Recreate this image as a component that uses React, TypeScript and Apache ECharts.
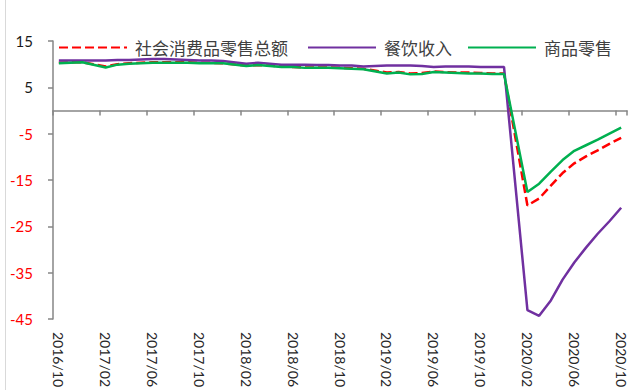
import React, { useEffect, useRef } from "react";
import * as echarts from "echarts";

const categories = [
  "2016/10", "2016/11", "2016/12",
  "2017/01", "2017/02", "2017/03", "2017/04", "2017/05", "2017/06", "2017/07", "2017/08", "2017/09", "2017/10", "2017/11", "2017/12",
  "2018/01", "2018/02", "2018/03", "2018/04", "2018/05", "2018/06", "2018/07", "2018/08", "2018/09", "2018/10", "2018/11", "2018/12",
  "2019/01", "2019/02", "2019/03", "2019/04", "2019/05", "2019/06", "2019/07", "2019/08", "2019/09", "2019/10", "2019/11", "2019/12",
  "2020/01", "2020/02", "2020/03", "2020/04", "2020/05", "2020/06", "2020/07", "2020/08", "2020/09", "2020/10",
];

const retailTotal = [
  10.3, 10.4, 10.4,
  null, 9.5, 10.0, 10.2, 10.3, 10.4, 10.4, 10.4, 10.4, 10.3, 10.3, 10.2,
  null, 9.7, 9.8, 9.7, 9.5, 9.4, 9.3, 9.3, 9.3, 9.2, 9.1, 9.0,
  null, 8.2, 8.3, 8.0, 8.1, 8.4, 8.3, 8.2, 8.2, 8.1, 8.0, 8.0,
  null, -20.5, -19.0, -16.2, -13.5, -11.4, -9.9, -8.6, -7.2, -5.9,
];

const catering = [
  10.8, 10.8, 10.8,
  null, 10.8, 10.9, 10.9, 11.0, 11.1, 11.1, 11.0, 10.9, 10.8, 10.8, 10.7,
  null, 10.1, 10.3, 10.1, 9.9, 9.9, 9.9, 9.8, 9.8, 9.7, 9.7, 9.5,
  null, 9.7, 9.7, 9.7, 9.6, 9.4, 9.5, 9.5, 9.5, 9.4, 9.4, 9.4,
  null, -43.1, -44.3, -41.0, -36.5, -32.8, -29.6, -26.6, -23.9, -21.0,
];

const goodsRetail = [
  10.2, 10.3, 10.4,
  null, 9.3, 9.9, 10.1, 10.2, 10.3, 10.3, 10.3, 10.3, 10.2, 10.2, 10.2,
  null, 9.6, 9.8, 9.6, 9.4, 9.4, 9.2, 9.2, 9.2, 9.1, 9.0, 8.9,
  null, 8.0, 8.2, 7.8, 7.9, 8.3, 8.2, 8.1, 8.0, 8.0, 7.9, 7.9,
  null, -17.6, -15.8, -13.2, -10.7, -8.7, -7.5, -6.3, -5.0, -3.7,
];

const yTickValues = [15, 5, -5, -15, -25, -35, -45];

const names = ["社会消费品零售总额", "餐饮收入", "商品零售"];

export default function App() {
  const ref = useRef<HTMLDivElement>(null);
  useEffect(() => {
    if (!ref.current) return;
    const chart = echarts.init(ref.current, null, { renderer: "svg" });
    const legendBase = {
      top: 34,
      itemWidth: 68,
      itemHeight: 18,
      itemStyle: { opacity: 0 },
      textStyle: {
        color: "#404040",
        fontSize: 17,
        fontFamily: "Noto Sans CJK SC",
        padding: [0, 0, 0, 3],
      },
    };
    chart.setOption({
      animation: false,
      backgroundColor: "#ffffff",
      graphic: [
        {
          type: "line",
          shape: { x1: 5.5, y1: 0, x2: 5.5, y2: 390 },
          style: { stroke: "#d9d9d9", lineWidth: 1 },
        },
      ],
      legend: [
        { ...legendBase, left: 53, data: [names[0]] },
        { ...legendBase, left: 302, data: [names[1]] },
        { ...legendBase, left: 462, data: [names[2]] },
      ],
      grid: {
        left: 53,
        right: 14,
        top: 41,
        bottom: 71,
        containLabel: false,
        outerBoundsMode: "none",
      },
      xAxis: [
        {
          type: "category",
          data: categories,
          position: "bottom",
          boundaryGap: true,
          axisLine: { show: false, onZero: false },
          axisTick: { show: false },
          axisLabel: {
            show: true,
            interval: 3,
            rotate: -90,
            margin: 13,
            color: "#262626",
            fontSize: 14,
            fontFamily: "Lato",
            hideOverlap: false,
          },
          splitLine: { show: false },
        },
        {
          type: "category",
          data: categories,
          position: "bottom",
          boundaryGap: true,
          axisLine: {
            show: true,
            onZero: true,
            lineStyle: { color: "#868686", width: 1.5 },
          },
          axisTick: {
            show: true,
            interval: 3,
            length: 5,
            lineStyle: { color: "#868686", width: 1.5 },
          },
          axisLabel: { show: false },
          splitLine: { show: false },
        },
      ],
      yAxis: {
        type: "value",
        min: -45,
        max: 15,
        axisLine: {
          show: true,
          lineStyle: { color: "#868686", width: 1.5 },
        },
        axisTick: {
          show: true,
          length: 5,
          customValues: yTickValues,
          lineStyle: { color: "#868686", width: 1.5 },
        },
        axisLabel: {
          customValues: yTickValues,
          margin: 20,
          fontSize: 15,
          fontFamily: "Lato",
          color: (v: any) => (Number(v) < 0 ? "#ff0000" : "#1a1a1a"),
        },
        splitLine: { show: false },
      },
      series: [
        {
          name: names[0],
          type: "line",
          xAxisIndex: 0,
          data: retailTotal,
          connectNulls: true,
          symbol: "none",
          lineStyle: { color: "#ff0000", width: 2.5, type: [9, 4] },
          itemStyle: { color: "#ff0000" },
        },
        {
          name: names[1],
          type: "line",
          xAxisIndex: 0,
          data: catering,
          connectNulls: true,
          symbol: "none",
          lineStyle: { color: "#7030a0", width: 2.5 },
          itemStyle: { color: "#7030a0" },
        },
        {
          name: names[2],
          type: "line",
          xAxisIndex: 0,
          data: goodsRetail,
          connectNulls: true,
          symbol: "none",
          lineStyle: { color: "#00b050", width: 2.5 },
          itemStyle: { color: "#00b050" },
        },
      ],
    });
    return () => chart.dispose();
  }, []);
  return (
    <div
      ref={ref}
      style={{ position: "fixed", left: 0, top: 0, width: 641, height: 390 }}
    />
  );
}
